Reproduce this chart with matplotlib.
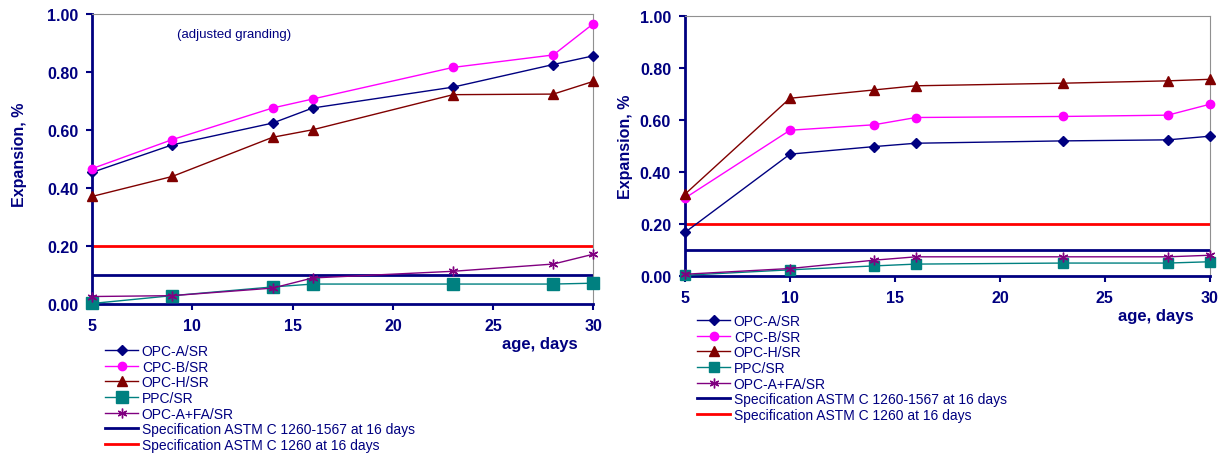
import matplotlib.pyplot as plt
from matplotlib.ticker import FormatStrFormatter

plt.rcParams['font.family'] = ['Liberation Sans', 'DejaVu Sans']

NAVY = '#000080'

# ages (days)
days = [5, 9, 14, 16, 23, 28, 30]
days_r = [5, 10, 14, 16, 23, 28, 30]

# left chart (adjusted granding)
opc_a = [0.454, 0.549, 0.624, 0.676, 0.748, 0.826, 0.856]
cpc_b = [0.467, 0.567, 0.676, 0.707, 0.816, 0.859, 0.967]
opc_h = [0.371, 0.440, 0.575, 0.601, 0.722, 0.724, 0.768]
ppc = [0.002, 0.029, 0.059, 0.069, 0.069, 0.069, 0.072]
opc_fa = [0.026, 0.029, 0.055, 0.090, 0.113, 0.138, 0.172]

# right chart
opc_a_r = [0.167, 0.468, 0.497, 0.510, 0.519, 0.523, 0.537]
cpc_b_r = [0.299, 0.560, 0.581, 0.609, 0.613, 0.618, 0.660]
opc_h_r = [0.314, 0.683, 0.715, 0.731, 0.741, 0.750, 0.756]
ppc_r = [0.002, 0.023, 0.038, 0.045, 0.049, 0.049, 0.054]
opc_fa_r = [0.006, 0.028, 0.060, 0.073, 0.073, 0.073, 0.079]

spec_1567 = 0.10
spec_1260 = 0.20

labels = ['OPC-A/SR', 'CPC-B/SR', 'OPC-H/SR', 'PPC/SR', 'OPC-A+FA/SR',
          'Specification ASTM C 1260-1567 at 16 days',
          'Specification ASTM C 1260 at 16 days']


def draw(ax, x, series, sq_size):
    a, b, h, p, f = series
    kw = dict(lw=1, clip_on=False, zorder=3)
    ax.plot(x, a, color=NAVY, marker='D', ms=5, label=labels[0], **kw)
    ax.plot(x, b, color='#FF00FF', marker='o', ms=6, label=labels[1], **kw)
    ax.plot(x, h, color='#800000', marker='^', ms=6.5, label=labels[2], **kw)
    ax.plot(x, p, color='#008080', marker='s', ms=sq_size, label=labels[3], **kw)
    ax.plot(x, f, color='#800080', marker=(6, 2, 0), ms=7, mew=1, label=labels[4], **kw)
    ax.axhline(spec_1567, color=NAVY, lw=2, label=labels[5])
    ax.axhline(spec_1260, color='#FF0000', lw=2, label=labels[6])

    ax.set_xlim(5, 30)
    ax.set_ylim(0, 1)
    ax.set_xticks([5, 10, 15, 20, 25, 30])
    ax.set_yticks([0, 0.2, 0.4, 0.6, 0.8, 1.0])
    ax.yaxis.set_major_formatter(FormatStrFormatter('%.2f'))
    for s in ['left', 'bottom']:
        ax.spines[s].set_color(NAVY)
        ax.spines[s].set_linewidth(2)
    for s in ['top', 'right']:
        ax.spines[s].set_color('#909090')
        ax.spines[s].set_linewidth(0.8)
    ax.tick_params(colors=NAVY, width=1.5, length=4, labelsize=11.5, pad=6)
    for t in ax.get_xticklabels() + ax.get_yticklabels():
        t.set_fontweight('bold')
    ax.set_ylabel('Expansion, %', color=NAVY, fontsize=11.5, fontweight='bold')


fig = plt.figure(figsize=(12.32, 4.56), dpi=100)

ax1 = fig.add_axes([0.0747, 0.331, 0.407, 0.636])
draw(ax1, days, [opc_a, cpc_b, opc_h, ppc, opc_fa], 9)
ax1.yaxis.set_label_coords(-0.13, 0.517)
ax1.text(0.17, 0.92, '(adjusted granding)', transform=ax1.transAxes,
         color=NAVY, fontsize=9.5)
fig.text(578 / 1232, 1 - 345 / 456, 'age, days', color=NAVY, fontsize=12,
         fontweight='bold', ha='right', va='center')
leg1 = ax1.legend(loc='upper left', bbox_to_anchor=(105 / 1232, 1 - 345 / 456),
                  bbox_transform=fig.transFigure, frameon=False, fontsize=10,
                  borderpad=0, labelspacing=0.12, handlelength=2.4,
                  handletextpad=0.25, borderaxespad=0)
for t in leg1.get_texts():
    t.set_color(NAVY)

ax2 = fig.add_axes([0.556, 0.393, 0.426, 0.570])
draw(ax2, days_r, [opc_a_r, cpc_b_r, opc_h_r, ppc_r, opc_fa_r], 6.5)
ax2.yaxis.set_label_coords(-0.10, 0.5)
fig.text(1194 / 1232, 1 - 317 / 456, 'age, days', color=NAVY, fontsize=12,
         fontweight='bold', ha='right', va='center')
leg2 = ax2.legend(loc='upper left', bbox_to_anchor=(697 / 1232, 1 - 315 / 456),
                  bbox_transform=fig.transFigure, frameon=False, fontsize=10,
                  borderpad=0, labelspacing=0.12, handlelength=2.4,
                  handletextpad=0.25, borderaxespad=0)
for t in leg2.get_texts():
    t.set_color(NAVY)

fig.savefig('out.png', dpi=100)
